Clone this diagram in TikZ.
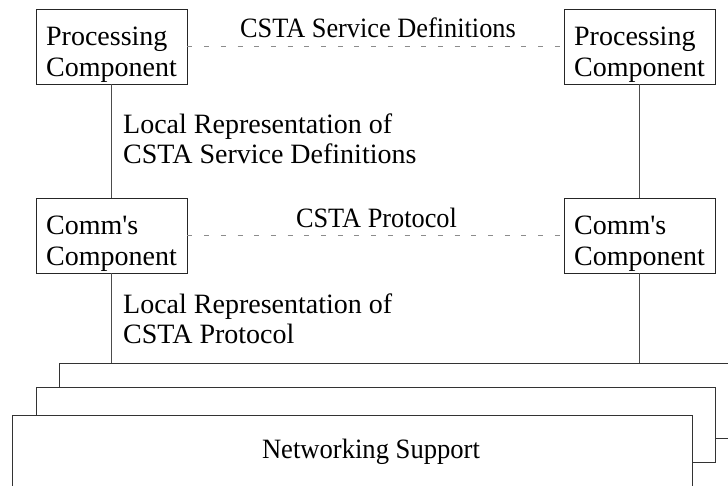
\documentclass[tikz,border=0pt]{standalone}
\usepackage{fontspec}
\setmainfont{Liberation Serif}
\begin{document}
\begin{tikzpicture}[x=1pt,y=-1pt,
  box/.style={draw=black!85, line width=0.9pt, fill=white, minimum width=151pt, minimum height=75pt,
    inner xsep=0pt, inner ysep=0pt, align=left, font=\fontsize{28}{31}\selectfont},
  layer/.style={draw=black!80, line width=0.9pt, fill=white, minimum height=75pt, inner sep=0pt},
  conn/.style={draw=black!70, line width=0.9pt},
  dashconn/.style={draw=black!45, line width=0.9pt, dash pattern=on 5pt off 11.7pt},
  lbl/.style={inner sep=0pt, font=\fontsize{28}{30}\selectfont, align=left}
]
\useasboundingbox (0,0) rectangle (728,486);
\clip (0,0) rectangle (728,486);

% boxes
\node[box] (pcL) at (111.5,46.5) {\rule{0pt}{34pt}Processing\\Component};
\node[box] (pcR) at (639.5,46.5) {\rule{0pt}{34pt}Processing\\Component};
\node[box] (cmL) at (111.5,235.5) {\rule{0pt}{34pt}Comm\textquotesingle s\\Component};
\node[box] (cmR) at (639.5,235.5) {\rule{0pt}{34pt}Comm\textquotesingle s\\Component};

% networking support stack
\node[layer, minimum width=700pt] (back) at (409.5,400.5) {};
\node[layer, minimum width=679pt] (mid) at (375.5,424.5) {};
\node[layer, minimum width=679.5pt] (front) at (352.25,452.5) {};
\node[lbl, anchor=base] (ns) at (371,458) {\scalebox{0.95}[1]{Networking Support}};

% connectors
\draw[conn] (pcL) -- (cmL);
\draw[conn] (pcR) -- (cmR);
\draw[conn] (cmL.south) -- (cmL.south |- back.north);
\draw[conn] (cmR.south) -- (cmR.south |- back.north);
\draw[dashconn] (pcL) -- (pcR);
\draw[dashconn] (cmL) -- (cmR);

% labels
\node[lbl, anchor=base] (t1) at (378,38) {\scalebox{0.94}[1]{CSTA Service Definitions}};
\node[lbl, anchor=base] (t2) at (376.5,228) {\scalebox{0.94}[1]{CSTA Protocol}};
\node[lbl, anchor=north west] (l1) at (123,113) {\rule{0pt}{20pt}Local Representation of\\CSTA Service Definitions};
\node[lbl, anchor=north west] (l2) at (123,293) {\rule{0pt}{20pt}Local Representation of\\CSTA Protocol};
\end{tikzpicture}
\end{document}
